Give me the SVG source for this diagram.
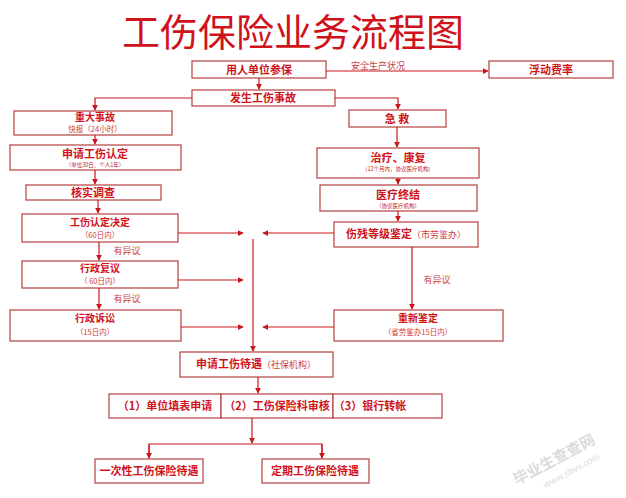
<svg xmlns="http://www.w3.org/2000/svg" width="626" height="498" viewBox="0 0 626 498">
<defs>
<marker id="ah" viewBox="0 0 8 8" refX="7" refY="4" markerWidth="6" markerHeight="6" orient="auto" markerUnits="userSpaceOnUse">
<path d="M0,0 L8,4 L0,8 z" fill="#c8161d"/>
</marker>
</defs>
<style>
rect{fill:#fff;stroke:#b5403f;stroke-width:1.2}
text{font-family:"Noto Sans CJK SC","Noto Sans",sans-serif;fill:#d0121b;text-anchor:middle}
.b{font-weight:bold;font-size:11px}
.b2{font-weight:bold;font-size:10px}
.s{font-size:7.5px;fill:#d03a3a}
.xs{font-size:5.5px;fill:#c02020}
.n{font-size:9px;fill:#d03a3a;font-weight:normal}
.g{font-size:9px;fill:#c84848}
.c line,.c path{stroke:#c8161d;stroke-width:1.2;fill:none}
</style>
<rect x="0" y="0" width="626" height="498" style="fill:#fff;stroke:none"/>
<text x="293" y="46" style="font-size:38px;fill:#d0121b">工伤保险业务流程图</text>

<g id="n-canbao"><rect x="192" y="61" width="134" height="17"/><text class="b" x="259" y="74">用人单位参保</text></g>
<g id="n-fudong"><rect x="489" y="61" width="124" height="17"/><text class="b" x="551" y="74">浮动费率</text></g>
<g id="n-fasheng"><rect x="192" y="90" width="143" height="16"/><text class="b" x="263" y="102">发生工伤事故</text></g>
<g id="n-zhongda"><rect x="14" y="111" width="158" height="24"/><text class="b2" x="95" y="121">重大事故</text><text class="s" x="95" y="132">快报（24小时）</text></g>
<g id="n-shenqing"><rect x="10" y="145" width="171" height="25"/><text class="b" x="95" y="158">申请工伤认定</text><text class="xs" x="95" y="167">（单位30日、个人1年）</text></g>
<g id="n-heshi"><rect x="26" y="185" width="135" height="15"/><text class="b" x="93" y="197">核实调查</text></g>
<g id="n-jueding"><rect x="22" y="214" width="156" height="28"/><text class="b2" x="100" y="226">工伤认定决定</text><text class="s" x="100" y="238">（60日内）</text></g>
<g id="n-fuyi"><rect x="22" y="261" width="156" height="27"/><text class="b2" x="100" y="272">行政复议</text><text class="s" x="100" y="284">（ 60日内）</text></g>
<g id="n-susong"><rect x="10" y="310" width="171" height="31"/><text class="b2" x="95" y="322">行政诉讼</text><text class="s" x="95" y="335">（15日内）</text></g>

<g id="n-jijiu"><rect x="349" y="110" width="97" height="17"/><text class="b" x="397" y="123">急 救</text></g>
<g id="n-zhiliao"><rect x="317" y="148" width="162" height="30"/><text class="b" x="398" y="162">治疗、康复</text><text class="xs" x="398" y="171">(12个月内，协议医疗机构)</text></g>
<g id="n-zhongjie"><rect x="320" y="185" width="157" height="26"/><text class="b" x="398" y="199">医疗终结</text><text class="xs" x="398" y="208">（协议医疗机构）</text></g>
<g id="n-shangcan"><rect x="334" y="222" width="144" height="25"/><text class="b" x="406" y="238">伤残等级鉴定<tspan class="n">（市劳鉴办）</tspan></text></g>
<g id="n-chongxin"><rect x="334" y="310" width="169" height="31"/><text class="b2" x="418" y="322">重新鉴定</text><text class="s" x="418" y="335">（省劳鉴办15日内）</text></g>

<g id="n-daiyu"><rect x="180" y="352" width="153" height="25"/><text class="b" x="256" y="368">申请工伤待遇<tspan class="n">（社保机构）</tspan></text></g>
<g id="n-step1"><rect x="109" y="394" width="112" height="24"/><text class="b" x="165" y="410">（1）单位填表申请</text></g>
<g id="n-step2"><rect x="221" y="394" width="112" height="24"/><text class="b" x="277" y="410">（2）工伤保险科审核</text></g>
<g id="n-step3"><rect x="333" y="394" width="109" height="24"/><text class="b" x="370" y="410">（3）银行转帐</text></g>
<g id="n-yici"><rect x="95" y="459" width="108" height="24"/><text class="b" x="149" y="475">一次性工伤保险待遇</text></g>
<g id="n-dingqi"><rect x="262" y="459" width="107" height="24"/><text class="b" x="315" y="475">定期工伤保险待遇</text></g>

<g class="c" id="connectors">
<line x1="326" y1="71" x2="488" y2="71" marker-end="url(#ah)"/>
<line x1="259" y1="78" x2="259" y2="89" marker-end="url(#ah)"/>
<path d="M192,98 H95 V110" marker-end="url(#ah)"/>
<path d="M335,98 H398 V109" marker-end="url(#ah)"/>
<line x1="95" y1="135" x2="95" y2="144" marker-end="url(#ah)"/>
<line x1="95" y1="170" x2="95" y2="184" marker-end="url(#ah)"/>
<line x1="98" y1="200" x2="98" y2="213" marker-end="url(#ah)"/>
<line x1="99" y1="242" x2="99" y2="260" marker-end="url(#ah)"/>
<line x1="99" y1="288" x2="99" y2="309" marker-end="url(#ah)"/>
<line x1="397" y1="127" x2="397" y2="147" marker-end="url(#ah)"/>
<line x1="398" y1="178" x2="398" y2="184" marker-end="url(#ah)"/>
<line x1="398" y1="211" x2="398" y2="221" marker-end="url(#ah)"/>
<line x1="412" y1="247" x2="412" y2="309" marker-end="url(#ah)"/>
<line x1="178" y1="233" x2="243" y2="233" marker-end="url(#ah)"/>
<line x1="334" y1="233" x2="263" y2="233" marker-end="url(#ah)"/>
<line x1="178" y1="280" x2="243" y2="280" marker-end="url(#ah)"/>
<line x1="181" y1="327" x2="243" y2="327" marker-end="url(#ah)"/>
<line x1="334" y1="327" x2="263" y2="327" marker-end="url(#ah)"/>
<line x1="253" y1="239" x2="253" y2="351" marker-end="url(#ah)"/>
<line x1="258" y1="377" x2="258" y2="393" marker-end="url(#ah)"/>
<line x1="252" y1="418" x2="252" y2="443" marker-end="url(#ah)"/>
<path d="M149,458 V444 H322 V458"/>
<line x1="149" y1="444" x2="149" y2="458" marker-end="url(#ah)"/>
<line x1="322" y1="444" x2="322" y2="458" marker-end="url(#ah)"/>
</g>
<text class="g" x="378" y="69">安全生产状况</text>
<text class="g" x="127" y="254">有异议</text>
<text class="g" x="127" y="302">有异议</text>
<text class="g" x="437" y="283">有异议</text>
<g opacity="0.35" transform="rotate(-28 560 460)">
<text x="555" y="462" style="font-size:15px;fill:#999;font-weight:bold">毕业生查查网</text>
<text x="565" y="478" style="font-size:9px;fill:#999">www.sbvv.com</text>
</g>
</svg>
